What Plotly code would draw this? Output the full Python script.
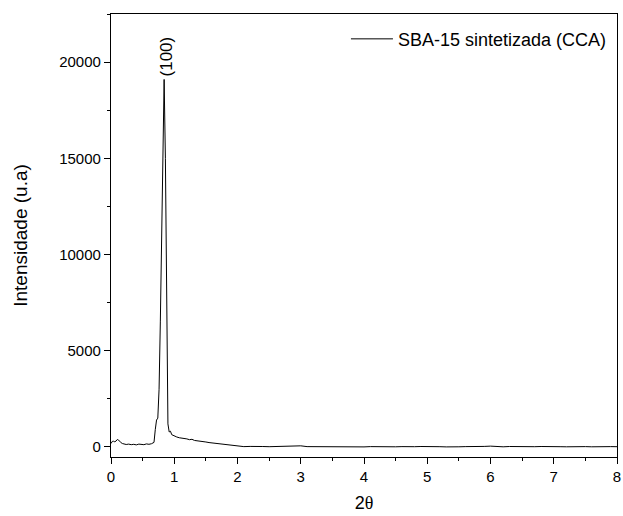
import plotly.graph_objects as go

two_theta = [0.00, 0.02, 0.04, 0.06, 0.08, 0.10, 0.12, 0.14, 0.16, 0.18, 0.20, 0.24, 0.28, 0.32,
             0.36, 0.40, 0.44, 0.48, 0.52, 0.56, 0.60, 0.64, 0.66, 0.68, 0.70, 0.72, 0.74,
             0.76, 0.78, 0.80, 0.82, 0.84, 0.86, 0.88, 0.90, 0.92, 0.94, 0.96, 0.98, 1.00,
             1.04, 1.08, 1.12, 1.16, 1.20, 1.24, 1.28, 1.32, 1.36, 1.40, 1.45, 1.50, 1.55,
             1.60, 1.65, 1.70, 1.75, 1.80, 1.85, 1.90, 1.95, 2.00, 2.05, 2.10, 2.20, 2.30,
             2.40, 2.50, 2.60, 2.70, 2.80, 2.90, 3.00, 3.10, 3.20, 3.30, 3.40, 3.50, 3.60,
             3.70, 3.80, 3.90, 4.00, 4.10, 4.20, 4.30, 4.40, 4.50, 4.60, 4.70, 4.80, 4.90,
             5.00, 5.10, 5.20, 5.30, 5.40, 5.50, 5.60, 5.70, 5.80, 5.90, 6.00, 6.10, 6.20,
             6.30, 6.40, 6.50, 6.60, 6.70, 6.80, 6.90, 7.00, 7.10, 7.20, 7.30, 7.40, 7.50,
             7.60, 7.70, 7.80, 7.90, 8.00]
intensity = [180, 290, 300, 270, 310, 390, 360, 260, 220, 180, 170, 130, 150, 120,
             140, 110, 150, 130, 120, 160, 140, 170, 190, 240, 900, 1400, 1500,
             3000, 6500, 11000, 16000, 19100, 15000, 6000, 1200, 780, 820, 640, 600, 560,
             520, 480, 470, 430, 420, 380, 400, 340, 330, 300, 280, 260, 230,
             210, 190, 170, 150, 130, 110, 90, 70, 40, 30, 20, 30, 10,
             25, 15, 30, 10, 20, 35, 60, 20, 15, 10, 25, 10, 5,
             20, 15, 10, 5, 20, 10, 25, 15, 10, 20, 5, 15, 25,
             10, 20, 15, 5, 25, 10, 20, 15, 10, 30, 45, 20, 10,
             25, 15, 10, 20, 15, 25, 10, 20, 15, 10, 25, 15, 20,
             10, 25, 15, 20, 15]

series_name = "SBA-15 sintetizada (CCA)"
peak_label = "(100)"
peak_x = 0.84
peak_y = 19100

FONT = "Liberation Sans, Arial"

fig = go.Figure()
fig.add_trace(go.Scatter(x=two_theta, y=intensity, mode="lines", name=series_name,
                         line=dict(color="black", width=1)))

fig.add_annotation(x=peak_x + 0.03, y=peak_y, text=peak_label, textangle=-90, showarrow=False,
                   xanchor="center", yanchor="bottom", yshift=1,
                   font=dict(size=17, color="black", family=FONT))

axis_common = dict(showline=True, linecolor="black", linewidth=1.3, mirror=True,
                   ticks="outside", tickcolor="black", ticklen=6, tickwidth=1.3,
                   showgrid=False, zeroline=False, automargin=False,
                   tickfont=dict(size=15, color="black", family=FONT))

fig.update_xaxes(range=[0, 8], dtick=1, tick0=0,
                 minor=dict(ticks="outside", ticklen=3, tickcolor="black", dtick=0.5, tick0=0),
                 title=dict(text="2<span style='font-family:Liberation Serif'>θ</span>",
                            font=dict(size=18, color="black", family=FONT),
                            standoff=12),
                 **axis_common)
fig.update_yaxes(range=[-520, 22500], dtick=5000, tick0=0, tickformat="d",
                 minor=dict(ticks="outside", ticklen=3, tickcolor="black", dtick=2500, tick0=0),
                 title=dict(text="Intensidade (u.a)", font=dict(size=19, color="black", family=FONT),
                            standoff=26),
                 **axis_common)

fig.update_layout(width=623, height=516, plot_bgcolor="white", paper_bgcolor="white",
                  margin=dict(l=111, r=6, t=14, b=59, autoexpand=False),
                  showlegend=True,
                  legend=dict(x=0.99, y=0.985, xanchor="right", yanchor="top",
                              bgcolor="rgba(0,0,0,0)", itemwidth=42,
                              font=dict(size=18, color="black", family=FONT)),
                  font=dict(family=FONT, color="black"))

fig.write_html("out.html", config={"displayModeBar": False},
               post_script="document.body.style.margin='0';document.body.style.overflow='hidden';")
